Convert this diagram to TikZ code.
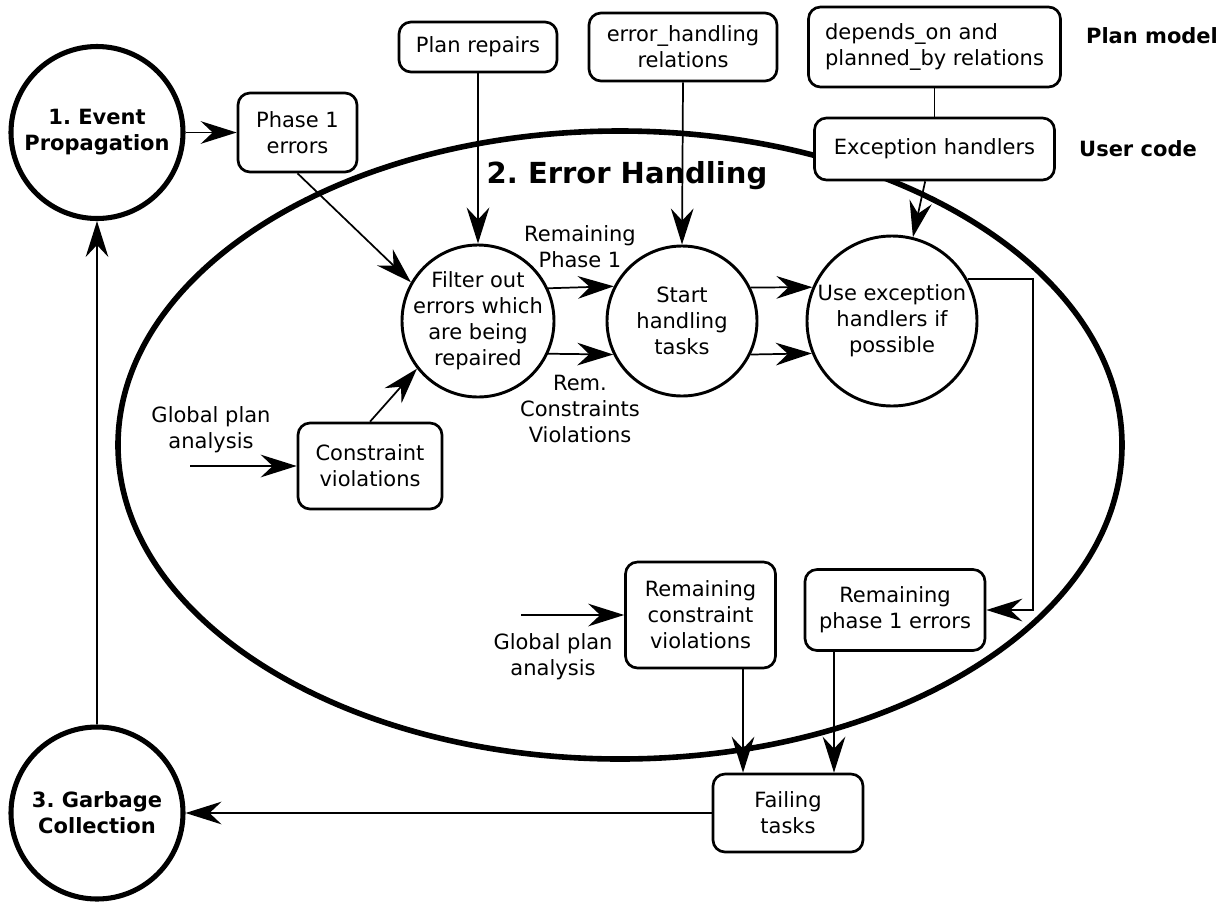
\documentclass[tikz,border=0pt]{standalone}
\usepackage{fontspec}
\setmainfont{DejaVu Sans}
\usetikzlibrary{arrows.meta,shapes.geometric}
\frenchspacing
\begin{document}
\begin{tikzpicture}[x=0.75pt,y=-0.75pt,
  txt/.style={font=\fontsize{15.75pt}{19.5pt}\selectfont, align=center, inner sep=0pt},
  bold/.style={font=\fontsize{15.75pt}{19.5pt}\selectfont\bfseries, align=center, inner sep=0pt},
  bx/.style={txt, draw, line width=2pt, rounded corners=9pt, fill=white},
  sc/.style={circle, draw, line width=2.2pt, fill=white, inner sep=0pt},
  bc/.style={circle, draw, line width=3.8pt, fill=white, inner sep=0pt},
  arr/.style={line width=1.3pt, -{Stealth[length=27pt,width=17pt,inset=9pt]}},
  ln/.style={line width=1.3pt}
]
\useasboundingbox (0,0) rectangle (1229,904);

% big ellipse
\draw[line width=4.2pt] (620,445) ellipse [x radius=502, y radius=314];
\node[font=\fontsize{21.75pt}{26pt}\selectfont\bfseries, anchor=base, inner sep=0pt] (ttl) at (627,183) {2. Error Handling};

% phase circles
\node[bc, minimum size=129pt, label={[bold]center:{1. Event\\Propagation}}] (ep) at (97,132.5) {};
\node[bc, minimum size=129pt, label={[bold]center:{3. Garbage\\Collection}}] (gc) at (97,813) {};

% boxes
\node[bx, minimum width=89.25pt, minimum height=59.25pt] (p1) at (297.5,132.5) {Phase 1\\errors};
\node[bx, minimum width=118.5pt, minimum height=37.5pt] (pr) at (478,47) {Plan repairs};
\node[bx, minimum width=141pt, minimum height=51pt] (eh) at (683,47) {error\_handling\\relations};
\node[bx, align=left, minimum width=189pt, minimum height=60pt] (dp) at (934.5,47) {depends\_on and\\planned\_by relations};
\node[bx, minimum width=180pt, minimum height=46.5pt] (ex) at (934.5,149) {Exception handlers};
\node[bold] (pm) at (1152,36) {Plan model};
\node[bold] (uc) at (1138,149) {User code};

% inner circles
\node[sc, minimum size=114pt, label={[txt]center:{Filter out\\errors which\\are being\\repaired}}] (fl) at (478,321) {};
\node[sc, minimum size=112.5pt, label={[txt]center:{Start\\handling\\tasks}}] (st) at (682,321) {};
\node[sc, minimum size=127.5pt, label={[txt]center:{Use exception\\handlers if\\possible}}] (ue) at (892,321) {};

\node[bx, minimum width=108pt, minimum height=64.5pt] (cv) at (370,466) {Constraint\\violations};
\node[txt] (g1) at (211,430) {Global plan\\analysis};
\coordinate (g1s) at (190,466);

\node[bx, minimum width=112.5pt, minimum height=79.5pt] (rc) at (700.5,615) {Remaining\\constraint\\violations};
\node[bx, minimum width=135pt, minimum height=60.75pt] (rp) at (895,610) {Remaining\\phase 1 errors};
\node[txt] (g2) at (553,657) {Global plan\\analysis};
\coordinate (g2s) at (521,615);
\coordinate (elbow) at (1033,610);

\node[bx, minimum width=112.5pt, minimum height=58.5pt] (ft) at (788,813) {Failing\\tasks};

\node[txt] (l1) at (580,247) {Remaining\\Phase 1};
\node[txt] (l2) at (580,409) {Rem.\\Constraints\\Violations};

% connectors
\draw[arr] (ep.east) -- (p1.west);
\draw[arr] (p1.south) -- (fl.150);
\draw[arr] (pr.south) -- (fl.north);
\draw[arr] (eh.south) -- (st.north);
\draw[ln] (dp.south) -- (ex.north);
\draw[arr] ([xshift=-7pt]ex.south) -- (ue.76);
\draw[arr] (fl.25.7) -- (st.153.9);
\draw[arr] (fl.-25.7) -- (st.206.1);
\draw[arr] (st.26.1) -- (ue.157.2);
\draw[arr] (st.-26.1) -- (ue.202.8);
\draw[arr] (ue.29.6) -| (elbow) -- (rp.east);
\draw[arr] (cv.north) -- (fl.218.8);
\draw[arr] (g1s) -- (cv.west);
\draw[arr] (g2s) -- (rc.west);
\draw[arr] ([xshift=31.9pt]rc.south) -- ([xshift=31.9pt]rc.south |- ft.north);
\draw[arr] ([xshift=-45.75pt]rp.south) -- ([xshift=-45.75pt]rp.south |- ft.north);
\draw[arr] (ft.west) -- (gc.east);
\draw[arr] (gc.north) -- (ep.south);
\end{tikzpicture}
\end{document}
